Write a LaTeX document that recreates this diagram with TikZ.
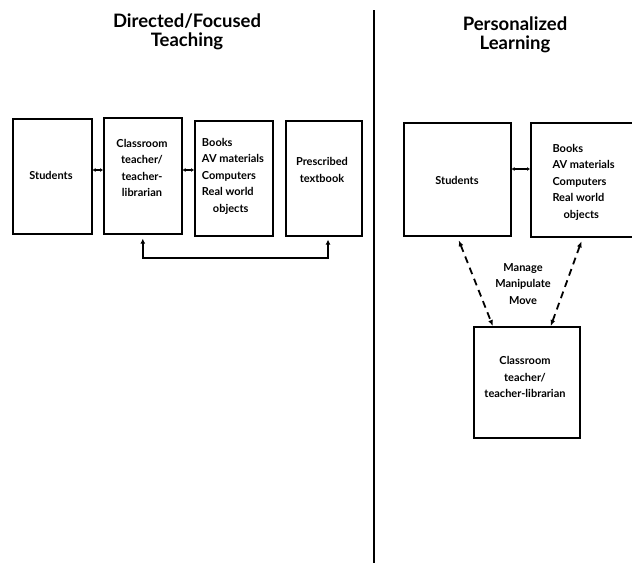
\documentclass[tikz,border=0pt]{standalone}
\usepackage{fontspec}
\setmainfont{Lato}
\usetikzlibrary{arrows.meta}
\newcommand{\hd}{\fontsize{18.5}{18.5}\selectfont\bfseries}

\begin{document}
\begin{tikzpicture}[x=1pt,y=-1pt,
  box/.style={draw, line width=1.6pt, inner sep=0pt, anchor=north west},
  lbl/.style={font=\fontsize{11}{16.5}\selectfont\bfseries, align=left},
  dbl/.style={line width=1.3pt, {Latex[length=3pt,width=4pt]}-{Latex[length=3pt,width=4pt]}},
  dsh/.style={line width=1.8pt, dash pattern=on 7pt off 5pt, {Latex[length=6pt,width=5pt]}-{Latex[length=6pt,width=5pt]}}]
\useasboundingbox (0,0) rectangle (632,563);
% headings
\node[font=\hd, align=center] (hdl) at (187,32) {Directed/Focused\\Teaching};
\node[font=\hd, align=center] (hdr) at (515,35) {Personalized\\Learning};
% divider
\draw[line width=1.6pt] (374,10) -- (374,563);
% left side
\node[box, minimum width=79pt, minimum height=115pt] (stu) at (12,118) {};
\node[box, minimum width=78pt, minimum height=116pt] (cls) at (103,117) {};
\node[box, minimum width=78pt, minimum height=115pt] (med) at (194,120) {};
\node[box, minimum width=76pt, minimum height=115pt] (txt) at (285,120) {};
\node[lbl] at (51,175) {Students};
\node[lbl, align=center] at (142,168) {Classroom\\teacher/\\teacher-\\librarian};
\node[lbl] at (233,176) {Books\\AV materials\\Computers\\Real world\\\quad objects};
\node[lbl, align=center] at (322,170) {Prescribed\\textbook};
\draw[dbl] (stu.east |- 0,170) -- (cls.west |- 0,170);
\draw[dbl] (cls.east |- 0,170) -- (med.west |- 0,170);
\draw[line width=1.5pt, {Latex[length=5pt,width=5pt]}-{Latex[length=5pt,width=5pt]}, shorten <=4pt, shorten >=3pt]
  (cls.south) -- (cls.south |- 0,258) -| (txt.south -| 328,0);
% right side
\node[box, minimum width=107pt, minimum height=113pt] (pst) at (403,122) {};
\node[box, minimum width=110pt, minimum height=114pt] (pmd) at (530,122) {};
\node[box, minimum width=106pt, minimum height=111pt] (pcl) at (473,326) {};
\node[lbl] at (457,180) {Students};
\node[lbl, anchor=west] at (549,182) {Books\\AV materials\\Computers\\Real world\\\quad objects};
\node[lbl, align=center] (mmm) at (523,284) {Manage\\Manipulate\\Move};
\node[lbl, align=center] at (525,377) {Classroom\\teacher/\\teacher-librarian};
\draw[dbl] (pst.east |- 0,169) -- (pmd.west |- 0,169);
\draw[dsh, shorten <=4pt] (pst.south) -- ([xshift=-34pt]pcl.north);
\draw[dsh, shorten <=4pt] ([xshift=-3pt]pmd.south) -- ([xshift=24pt]pcl.north);
\end{tikzpicture}
\end{document}
